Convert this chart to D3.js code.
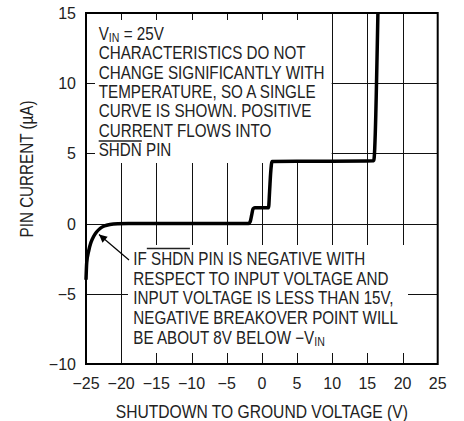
<!DOCTYPE html>
<html><head><meta charset="utf-8">
<script src="https://cdn.jsdelivr.net/npm/d3@7"></script>
<style>
html,body{margin:0;padding:0;background:#fff;}
svg{display:block;}
</style></head>
<body>
<svg id="chart" width="464" height="421"></svg>
<script>
// ---- data ----
const curveX = [-25, -24.9, -24.6, -24.3, -23.9, -23.5, -23, -22.4, -21.6, -20.5, -19, -1.9, -1.65, -1.45, -1.25, -1.0, 0.95, 1.1, 1.25, 1.45, 8, 15.9, 16.5];
const curveY = [-4.0, -2.8, -1.9, -1.35, -0.9, -0.6, -0.35, -0.17, -0.06, -0.01, 0, 0, 0.15, 0.6, 1.05, 1.13, 1.13, 2.3, 3.6, 4.42, 4.44, 4.48, 15];
const xTicks = [-25, -20, -15, -10, -5, 0, 5, 10, 15, 20, 25];
const yTicks = [-10, -5, 0, 5, 10, 15];
const xTitle = "SHUTDOWN TO GROUND VOLTAGE (V)";
const yTitle = "PIN CURRENT (\u00B5A)";
const topNote = ["CHARACTERISTICS DO NOT", "CHANGE SIGNIFICANTLY WITH", "TEMPERATURE, SO A SINGLE", "CURVE IS SHOWN. POSITIVE", "CURRENT FLOWS INTO", "SHDN PIN"];
const bottomNote = ["IF SHDN PIN IS NEGATIVE WITH", "RESPECT TO INPUT VOLTAGE AND", "INPUT VOLTAGE IS LESS THAN 15V,", "NEGATIVE BREAKOVER POINT WILL", "BE ABOUT 8V BELOW \u2212V"];

// ---- layout ----
const W = 464, H = 421;
const FONT = "'Liberation Sans', Arial, Helvetica, sans-serif";
const SX = 0.845; // horizontal squeeze to mimic a narrow face
const INK = "#222";
const m = {left: 86, right: 26.3, top: 13, bottom: 57};
const svg = d3.select("#chart").attr("font-family", FONT);
const x = d3.scaleLinear().domain([-25, 25]).range([m.left, W - m.right]);
const y = d3.scaleLinear().domain([-10, 15]).range([H - m.bottom, m.top]);
const fmt = v => (v < 0 ? "\u2212" + Math.abs(v) : String(v));
const X0 = x(-25), X1 = x(25), Y0 = y(-10), Y1 = y(15);

function narrow(parent, px, py, str, size, anchor, rot) {
  const gg = parent.append("g").attr("transform", `translate(${px},${py})` + (rot ? ` rotate(${rot})` : "") + ` scale(${SX},1)`);
  const tx = gg.append("text").attr("x", 0).attr("y", 0).attr("font-size", size).attr("fill", INK)
    .attr("text-anchor", anchor || "start").text(str);
  return tx;
}

// grid
const g = svg.append("g").attr("stroke", "#111").attr("stroke-width", 1).attr("shape-rendering", "crispEdges");
xTicks.slice(1, -1).forEach(v => g.append("line").attr("x1", Math.round(x(v)) + 0.5).attr("x2", Math.round(x(v)) + 0.5).attr("y1", Y1).attr("y2", Y0));
yTicks.slice(1, -1).forEach(v => g.append("line").attr("y1", Math.round(y(v)) + 0.5).attr("y2", Math.round(y(v)) + 0.5).attr("x1", X0).attr("x2", X1));

// white note boxes
svg.append("rect").attr("x", X0).attr("y", Y1 + 7).attr("width", x(10) - X0 - 0.5).attr("height", 163 - Y1 - 7).attr("fill", "#fff");
svg.append("rect").attr("x", 128).attr("y", 245).attr("width", 408 - 128).attr("height", 353 - 245).attr("fill", "#fff");

// inner ticks
const t = svg.append("g").attr("stroke", "#111").attr("stroke-width", 1).attr("shape-rendering", "crispEdges");
xTicks.slice(1, -1).forEach(v => {
  const xx = Math.round(x(v)) + 0.5;
  t.append("line").attr("x1", xx).attr("x2", xx).attr("y1", Y1).attr("y2", Y1 + 7);
  t.append("line").attr("x1", xx).attr("x2", xx).attr("y1", Y0 - 11).attr("y2", Y0);
});
yTicks.slice(1, -1).forEach(v => {
  const yy = Math.round(y(v)) + 0.5;
  t.append("line").attr("x1", X0).attr("x2", X0 + 9).attr("y1", yy).attr("y2", yy);
});

// frame
svg.append("rect").attr("x", X0).attr("y", Y1).attr("width", X1 - X0).attr("height", Y0 - Y1)
  .attr("fill", "none").attr("stroke", "#000").attr("stroke-width", 2);

// curve
const pts = curveX.map((v, i) => [v, curveY[i]]);
svg.append("path").datum(pts)
  .attr("d", d3.line().x(d => x(d[0])).y(d => y(d[1])).curve(d3.curveMonotoneX))
  .attr("fill", "none").attr("stroke", "#000").attr("stroke-width", 3.5).attr("stroke-linejoin", "round");

// tick labels
svg.append("g").selectAll("text").data(xTicks).join("text")
  .attr("x", d => x(d)).attr("y", Y0 + 25).attr("text-anchor", "middle")
  .attr("font-size", 16).attr("fill", INK).text(fmt);
svg.append("g").selectAll("text").data(yTicks).join("text")
  .attr("x", X0 - 10).attr("y", d => y(d) + 6).attr("text-anchor", "end")
  .attr("font-size", 16).attr("fill", INK).text(fmt);

// axis titles
narrow(svg, (X0 + X1) / 2, 417.5, xTitle, 18.5, "middle");
narrow(svg, 33, 169, yTitle, 18, "middle", -90);

// top note
const vin = narrow(svg, 98.7, 39.7, "", 18);
vin.append("tspan").text("V");
vin.append("tspan").attr("font-size", 12.5).attr("dy", 2.5).text("IN");
vin.append("tspan").attr("dy", -2.5).text(" = 25V");
topNote.forEach((s, i) => narrow(svg, 98.7, 59.2 + i * 19.35, s, 18));
{
  const tmp = narrow(svg, 0, -100, "SHDN", 18);
  const w = tmp.node().getComputedTextLength() * SX; tmp.remove();
  svg.append("line").attr("x1", 98.7).attr("x2", 98.7 + w).attr("y1", 141).attr("y2", 141).attr("stroke", INK).attr("stroke-width", 1.3);
}

// bottom note
bottomNote.forEach((s, i) => {
  const tx = narrow(svg, 133.3, 265 + i * 19.7, s, 18);
  if (i === bottomNote.length - 1) tx.append("tspan").attr("font-size", 12.5).attr("dy", 2.5).text("IN");
});
{
  const a = narrow(svg, 0, -100, "IF ", 18), b = narrow(svg, 0, -100, "SHDN", 18);
  const x1 = 133.3 + a.node().getComputedTextLength() * SX, w = b.node().getComputedTextLength() * SX;
  a.remove(); b.remove();
  svg.append("line").attr("x1", x1).attr("x2", x1 + w).attr("y1", 248.5).attr("y2", 248.5).attr("stroke", INK).attr("stroke-width", 1.3);
}

// arrow
svg.append("defs").append("marker").attr("id", "ah").attr("viewBox", "0 0 10 10").attr("refX", 10).attr("refY", 5)
  .attr("markerWidth", 11).attr("markerHeight", 8).attr("markerUnits", "userSpaceOnUse").attr("orient", "auto")
  .append("path").attr("d", "M0,0 L10,5 L0,10 z").attr("fill", "#000");
svg.append("line").attr("x1", 129).attr("y1", 260).attr("x2", 99).attr("y2", 234.5)
  .attr("stroke", "#000").attr("stroke-width", 1.2).attr("marker-end", "url(#ah)");
</script>
</body></html>
